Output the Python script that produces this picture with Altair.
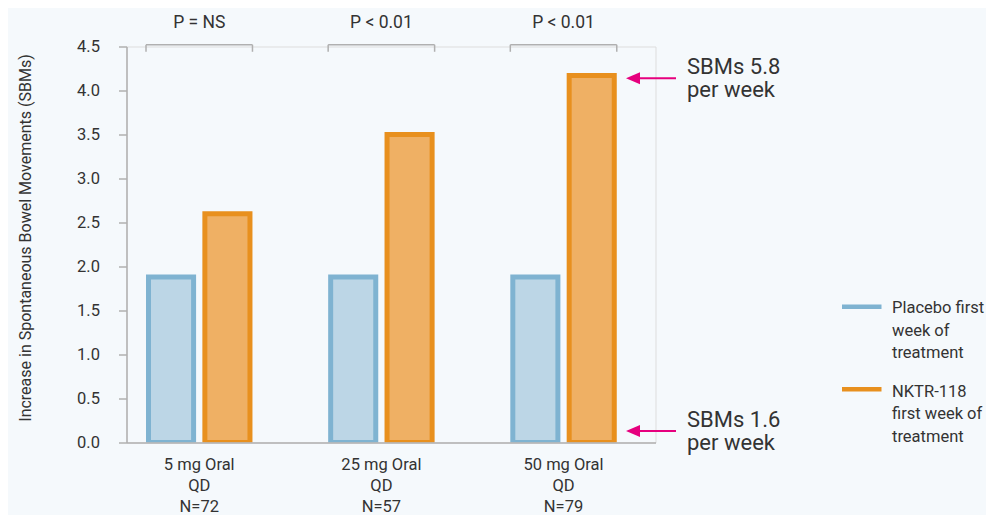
import altair as alt
import pandas as pd

# ---- data ----
doses = ["5 mg Oral", "25 mg Oral", "50 mg Oral"]
schedules = ["QD", "QD", "QD"]
n_patients = [72, 57, 79]
series = ["Placebo first week of treatment", "NKTR-118 first week of treatment"]
placebo = [1.88, 1.88, 1.88]
nktr118 = [2.6, 3.5, 4.17]
p_values = ["P = NS", "P < 0.01", "P < 0.01"]
y_ticks = [0.0, 0.5, 1.0, 1.5, 2.0, 2.5, 3.0, 3.5, 4.0, 4.5]
callout_labels = ["SBMs 5.8\nper week", "SBMs 1.6\nper week"]
callout_levels = [4.14, 0.13]
legend_labels = ["Placebo first\nweek of\ntreatment", "NKTR-118\nfirst week of\ntreatment"]

# ---- styles ----
BLUE_FILL, BLUE_STROKE = "#bcd6e6", "#7fb3d1"
ORANGE_FILL, ORANGE_STROKE = "#efb064", "#e8901e"
PINK = "#e6007e"
GRAY = "#b0b0b0"
TEXT = "#333333"
BG = "#f5f9fc"
FONT = "Roboto"

groups = [f"{d}|{s}|N={n}" for d, s, n in zip(doses, schedules, n_patients)]

bars_df = pd.DataFrame({
    "group": groups * 2,
    "series": [series[0]] * len(groups) + [series[1]] * len(groups),
    "value": placebo + nktr118,
})
p_df = pd.DataFrame({"group": groups, "p": p_values})
call_df = pd.DataFrame({"label": callout_labels, "level": callout_levels})

BRACKET_TOP, BRACKET_BOTTOM = 4.52, 4.44

x_scale = alt.Scale(domain=groups, paddingInner=0.443, paddingOuter=0.1736, align=0.348)
y_scale = alt.Scale(domain=[0, 4.5], nice=False, zero=True)

x_axis = alt.Axis(
    title=None, labelExpr="split(datum.label, '|')", ticks=False, tickSize=0,
    labelPadding=13.5, labelAngle=0, labelFontSize=16.5, labelLineHeight=21,
    labelColor=TEXT, labelFont=FONT, domainColor=GRAY, domainWidth=1.5, zindex=1,
    labelLimit=0,
)
y_axis = alt.Axis(
    title="Increase in Spontaneous Bowel Movements (SBMs)", values=y_ticks, format=".1f",
    grid=False, tickSize=8, tickColor=GRAY, tickWidth=1.5, domainColor=GRAY, domainWidth=1.5,
    labelPadding=19, labelFontSize=16.5, labelColor=TEXT, labelFont=FONT,
    titleX=-93, titleY=191, titleFontSize=16, titleFontWeight="normal", titleColor=TEXT,
    titleFont=FONT,
)

bars = alt.Chart(bars_df).mark_bar(strokeWidth=5, clip=True).encode(
    x=alt.X("group:N", scale=x_scale, axis=x_axis),
    xOffset=alt.XOffset("series:N", scale=alt.Scale(domain=series, paddingInner=0.2, paddingOuter=0)),
    y=alt.Y("value:Q", scale=y_scale, axis=y_axis),
    fill=alt.Fill("series:N", scale=alt.Scale(domain=series, range=[BLUE_FILL, ORANGE_FILL]), legend=None),
    stroke=alt.Stroke("series:N", scale=alt.Scale(domain=series, range=[BLUE_STROKE, ORANGE_STROKE]), legend=None),
)

bracket_top = alt.Chart(p_df).mark_rule(color=GRAY, strokeWidth=1.5, xOffset=-2.5, x2Offset=2.5).encode(
    x=alt.X("group:N", bandPosition=0),
    x2=alt.X2("group", bandPosition=1),
    y=alt.datum(BRACKET_TOP),
)
bracket_left = alt.Chart(p_df).mark_rule(color=GRAY, strokeWidth=1.5, xOffset=-2.5).encode(
    x=alt.X("group:N", bandPosition=0),
    y=alt.datum(BRACKET_TOP),
    y2=alt.datum(BRACKET_BOTTOM),
)
bracket_right = alt.Chart(p_df).mark_rule(color=GRAY, strokeWidth=1.5, xOffset=2.5).encode(
    x=alt.X("group:N", bandPosition=1),
    y=alt.datum(BRACKET_TOP),
    y2=alt.datum(BRACKET_BOTTOM),
)
p_text = alt.Chart(p_df).mark_text(
    fontSize=17.5, dy=-16.4, baseline="alphabetic", color=TEXT, font=FONT
).encode(x="group:N", y=alt.datum(BRACKET_TOP), text="p:N")

arrow_line = alt.Chart(call_df).mark_rule(color=PINK, strokeWidth=2).encode(
    x=alt.value(513.5), x2=alt.value(549.5), y="level:Q"
)
arrow_head = alt.Chart(call_df).mark_point(
    shape="M-1,0L1,-0.857L1,0.857Z", filled=True, size=196, color=PINK, opacity=1, strokeWidth=0
).encode(x=alt.value(506.5), y="level:Q")
call_text = alt.Chart(call_df).mark_text(
    align="left", baseline="alphabetic", dy=-4.3, fontSize=22, lineHeight=23,
    lineBreak="\n", color=TEXT, font=FONT,
).encode(x=alt.value(560.5), y="level:Q", text="label:N")

legend_layers = []
legend_line_y = [260.2, 342.8]
legend_text_y = [266.8, 350.2]
for lab, col, ly, ty in zip(legend_labels, [BLUE_STROKE, ORANGE_STROKE], legend_line_y, legend_text_y):
    one = pd.DataFrame({"label": [lab]})
    legend_layers.append(
        alt.Chart(one).mark_rule(color=col, strokeWidth=4.5).encode(
            x=alt.value(715.5), x2=alt.value(755), y=alt.value(ly)
        )
    )
    legend_layers.append(
        alt.Chart(one).mark_text(
            align="left", baseline="alphabetic", fontSize=16.5, lineHeight=22.5,
            lineBreak="\n", color=TEXT, font=FONT,
        ).encode(x=alt.value(765.5), y=alt.value(ty), text="label:N")
    )

chart = alt.layer(
    bars, bracket_top, bracket_left, bracket_right, p_text,
    arrow_line, arrow_head, call_text, *legend_layers
).properties(
    width=529, height=396,
    autosize=alt.AutoSizeParams(type="none"),
    padding={"left": 118.5, "top": 38.5, "right": 330.5, "bottom": 72.5},
    background=BG,
).configure_view(stroke=None).configure(font=FONT)

chart.save("out.html", embed_options={"renderer": "svg", "actions": False})
